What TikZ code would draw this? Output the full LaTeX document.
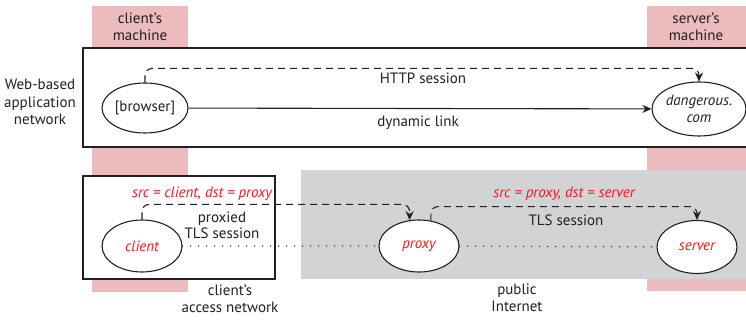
\documentclass[tikz,border=0pt]{standalone}
\usepackage{fontspec}
\setmainfont{PT Sans}
\usetikzlibrary{shapes.geometric,arrows.meta}
\definecolor{machinepink}{HTML}{EBBBBE}
\definecolor{internetgray}{HTML}{D1D3D4}
\definecolor{srcred}{HTML}{ED1C24}
\definecolor{inkgray}{HTML}{231F20}

\begin{document}
\begin{tikzpicture}[x=1pt,y=-1pt,
  font=\fontsize{15pt}{17.5pt}\selectfont, text=inkgray,
  host/.style={draw=inkgray, ellipse, fill=white, line width=1.1pt, inner sep=0pt, align=center},
  lbl/.style={align=center, inner sep=0pt},
  addr/.style={text=srcred, font=\fontsize{15pt}{17.5pt}\selectfont\itshape},
  session/.style={inkgray, line width=1.1pt, dash pattern=on 7pt off 5pt, rounded corners=7pt, -{Stealth[length=9pt,width=8pt]}},
  route/.style={inkgray, line width=1.5pt, line cap=round, dash pattern=on 0pt off 8pt}]
\clip (0,0) rectangle (746,320);

% machines and networks
\fill[machinepink] (92,6) rectangle (188,292);
\fill[machinepink] (647,6) rectangle (746,291);
\draw[inkgray, fill=white, line width=1.1pt] (83,48) rectangle (760,147);
\fill[internetgray] (301,170) rectangle (760,279);
\draw[inkgray, fill=white, line width=1.1pt] (83,176) rectangle (275,279);

\node[lbl] at (140,27) (cm) {client's\\machine};
\node[lbl] at (696,27) (sm) {server's\\machine};
\node[lbl] at (40,102) (webnet) {Web-based\\application\\network};
\node[lbl] at (230,299) (accnet) {client's\\access network};
\node[lbl] at (517,298) (pubnet) {public\\Internet};

% web-based application
\node[host, minimum width=86pt, minimum height=50pt] at (145,108) (browser) {[browser]};
\node[host, minimum width=88pt, minimum height=54pt, font=\fontsize{15pt}{17.5pt}\selectfont\itshape] at (699,109) (dangerous) {dangerous.\\com};
\draw[inkgray, line width=1.1pt, -{Stealth[length=9pt,width=8pt]}] (browser) -- (dangerous);
\draw[session] (browser.north) -- ++(0,-14) -| (dangerous.north);
\node[lbl] at (423,78) (http) {HTTP session};
\node[lbl] at (418,123) (dyn) {dynamic link};

% proxied TLS
\node[host, addr, minimum width=80pt, minimum height=52pt] at (142,246) (client) {client};
\node[host, addr, minimum width=80pt, minimum height=52pt] at (419,246) (proxy) {proxy};
\node[host, addr, minimum width=80pt, minimum height=53pt] at (697,247) (server) {server};
\draw[route] (client) -- (proxy);
\draw[route] (proxy) -- (server);
\draw[session] (client.north) -- ++(0,-15) -| (proxy.110);
\draw[session] (proxy.65) -- ++(0,-14) -| (server.north);
\node[lbl, addr] at (202,194) (src1) {src = client, dst = proxy};
\node[lbl, addr] at (564,194) (src2) {src = proxy, dst = server};
\node[lbl, font=\fontsize{15pt}{16pt}\selectfont] at (222,225) (ptls) {proxied\\TLS session};
\node[lbl] at (566,220) (tls) {TLS session};
\end{tikzpicture}
\end{document}
